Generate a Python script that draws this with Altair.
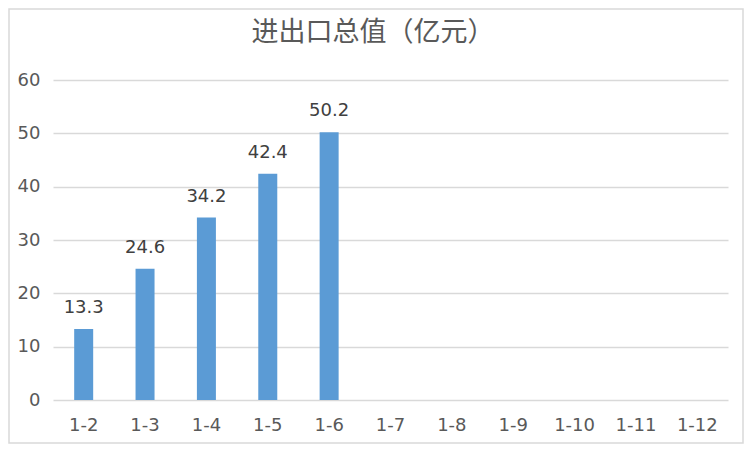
import altair as alt
import pandas as pd

categories = ["1-2", "1-3", "1-4", "1-5", "1-6", "1-7", "1-8", "1-9", "1-10", "1-11", "1-12"]
values = [13.3, 24.6, 34.2, 42.4, 50.2, None, None, None, None, None, None]
y_ticks = [0, 10, 20, 30, 40, 50, 60]
title_text = ["进出口总值（亿元）"]

df = pd.DataFrame({"cat": categories, "val": values})

W, H = 675, 320
PL, PT, PR, PB = 45, 72, 16, 44

x_enc = alt.X("cat:N", sort=categories, title=None,
              scale=alt.Scale(paddingInner=0, paddingOuter=0),
              axis=alt.Axis(labelAngle=0, labelFontSize=18, labelColor="#595959",
                            labelFont="DejaVu Sans", domain=False, ticks=False,
                            labelPadding=16, grid=False))
y_enc = alt.Y("val:Q", title=None,
              scale=alt.Scale(domain=[0, 60], nice=False),
              axis=alt.Axis(values=y_ticks, labelFontSize=18, labelColor="#595959",
                            labelFont="DejaVu Sans", domain=False, ticks=False,
                            labelPadding=13, gridColor="#d9d9d9", gridWidth=1.5))

base = alt.Chart(df)

bars = base.mark_bar(size=19, color="#5b9bd5").encode(x=x_enc, y=y_enc)
labels = base.mark_text(baseline="alphabetic", dy=-16, fontSize=18, color="#404040",
                        font="DejaVu Sans").encode(
    x=alt.X("cat:N", sort=categories),
    y=alt.Y("val:Q"),
    text=alt.Text("val:Q", format=".1f"),
)
border = alt.Chart(pd.DataFrame({"a": [0]})).mark_rect(
    fill=None, stroke="#d9d9d9", strokeWidth=1.5
).encode(
    x=alt.value(-PL + 1), x2=alt.value(W + PR - 1),
    y=alt.value(-PT + 1), y2=alt.value(H + PB - 1),
)
title = alt.Chart(pd.DataFrame({"t": title_text})).mark_text(
    fontSize=27, color="#595959", font="Noto Sans CJK SC", baseline="middle", align="center"
).encode(
    x=alt.value(320), y=alt.value(-47), text="t:N"
)

chart = alt.layer(bars, labels, border, title).properties(
    width=W, height=H,
    background="white",
    autosize=alt.AutoSizeParams(type="none"),
    padding={"left": PL, "top": PT, "right": PR, "bottom": PB},
).configure_view(stroke=None, strokeWidth=0)

chart.save("out.html", embed_options={"renderer": "svg", "actions": False})
